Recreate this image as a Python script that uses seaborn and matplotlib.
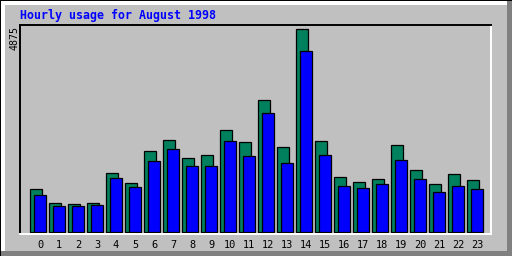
import matplotlib
matplotlib.use("Agg")
import matplotlib.pyplot as plt
import seaborn as sns
import pandas as pd
import numpy as np
from matplotlib.patches import Rectangle

hours = list(range(24))
hits = [1032, 696, 672, 696, 1416, 1176, 1944, 2216, 1776, 1848, 2456, 2168,
        3176, 2040, 4875, 2184, 1320, 1200, 1272, 2088, 1488, 1152, 1392, 1248]
files = [896, 624, 624, 656, 1296, 1080, 1704, 2000, 1584, 1584, 2192, 1824,
         2856, 1656, 4346, 1848, 1104, 1056, 1152, 1728, 1272, 960, 1104, 1032]
hour_labels = [str(h) for h in hours]
title = "Hourly usage for August 1998"
max_label = "4875"

BG = "#C0C0C0"
sns.set_theme(style="white")
plt.rcParams['font.family'] = ['DejaVu Sans Mono', 'DejaVu Sans']

W, H = 512, 256
fig = plt.figure(figsize=(W / 100, H / 100), dpi=100, facecolor=BG)

# 3D border
def frect(x, y, w, h, color):
    fig.patches.append(Rectangle((x / W, 1 - (y + h) / H), w / W, h / H,
                                 transform=fig.transFigure, facecolor=color,
                                 edgecolor='none', zorder=0))
frect(0, 0, W, 5, "white")
frect(0, 0, 5, H, "white")
frect(0, 251, W, 5, "#808080")
frect(507, 0, 5, H, "#808080")
frect(0, 0, W, 1, "black")
frect(0, 0, 1, H, "black")

left, right, top, bottom = 20, 491, 25, 234.3
ax = fig.add_axes([left / W, 1 - bottom / H, (right - left) / W, (bottom - top) / H])
ax.set_facecolor(BG)

off = 4 / 19
df_h = pd.DataFrame({"x": np.array(hours, dtype=float), "v": hits})
df_f = pd.DataFrame({"x": np.array(hours, dtype=float) + off, "v": files})
sns.barplot(data=df_h, x="x", y="v", native_scale=True, width=0.6,
            color="#00805C", saturation=1, edgecolor="black", linewidth=0.9,
            ax=ax, errorbar=None)
sns.barplot(data=df_f, x="x", y="v", native_scale=True, width=0.6,
            color="#0000FF", saturation=1, edgecolor="black", linewidth=0.9,
            ax=ax, errorbar=None)

ax.set_xlim(-0.84, -0.84 + 471 / 19)
ax.set_ylim(-48, 4977)
ax.set_xticks([])
ax.set_yticks([])
ax.set_xlabel("")
ax.set_ylabel("")
for s in ["top", "left"]:
    ax.spines[s].set_color("black")
    ax.spines[s].set_linewidth(1.4)
for s in ["bottom", "right"]:
    ax.spines[s].set_color("white")
    ax.spines[s].set_linewidth(1.4)
    ax.spines[s].set_visible(True)

# hour labels
for h, lab in zip(hours, hour_labels):
    ax.text(h + off, 1 - 245 / H, lab,
            transform=matplotlib.transforms.blended_transform_factory(ax.transData, fig.transFigure),
            ha="center", va="center", fontsize=7.4, color="black",
            family="DejaVu Sans Mono")

fig.text(20 / W, 1 - 15 / H, title, ha="left", va="center", fontsize=8.4,
         fontweight="bold", color="#0000FF", family="DejaVu Sans Mono")
fig.text(15 / W, 1 - 38.5 / H, max_label, ha="center", va="center", rotation=90,
         fontsize=7.2, color="black", family="DejaVu Sans Mono")

fig.savefig("out.png", dpi=100, facecolor=BG)
